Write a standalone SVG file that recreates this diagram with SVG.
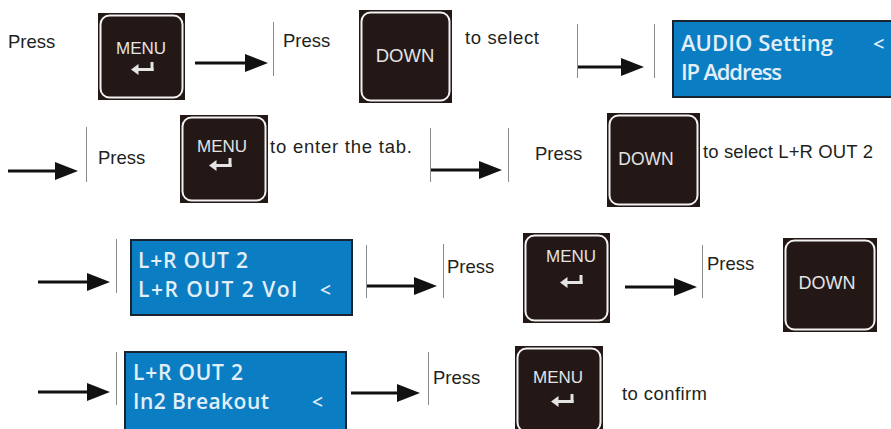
<svg xmlns="http://www.w3.org/2000/svg" xmlns:xlink="http://www.w3.org/1999/xlink" width="891" height="429" viewBox="0 0 891 429">
<style>
.t{font-family:"Liberation Sans",Arial,sans-serif;font-size:18.5px;fill:#231f20}
.key{fill:#231816}
.rim{fill:none;stroke:#f2f2f2;stroke-width:2}
.kt{font-family:"Liberation Sans",Arial,sans-serif;fill:#e4e4e4;text-anchor:middle}
.lcd{fill:#0b7dc3;stroke:#1a2430;stroke-width:2}
.lt{font-family:"Open Sans","DejaVu Sans",sans-serif;font-weight:600;fill:#e2eff9}
.sep{stroke:#8a8a8a;stroke-width:1}
.arr{stroke:#111;stroke-width:3;fill:none;marker-end:url(#ah)}
</style>
<defs>
<marker id="ah" markerUnits="userSpaceOnUse" viewBox="0 0 23 18" markerWidth="23" markerHeight="18" refX="1" refY="9" orient="auto">
<path d="M0,0 L23,9 L0,18 Z" fill="#111"/>
</marker>
<g id="enter" fill="#e4e4e4">
<path d="M-10,0.5 L-2.5,-5 L-2.5,6 Z"/>
<rect x="-3" y="-1" width="15.5" height="3"/>
<rect x="9.5" y="-7" width="3" height="9"/>
</g>
</defs>

<g id="connectors">
<line class="arr" x1="195" y1="63" x2="246" y2="63"/>
<line class="sep" x1="273.5" y1="22" x2="273.5" y2="76"/>
<line class="sep" x1="577.5" y1="24" x2="577.5" y2="78"/>
<line class="arr" x1="578" y1="67" x2="622" y2="67"/>
<line class="sep" x1="654.5" y1="24" x2="654.5" y2="78"/>

<line class="arr" x1="8" y1="171" x2="56" y2="171"/>
<line class="sep" x1="86.5" y1="127" x2="86.5" y2="182"/>
<line class="sep" x1="430.5" y1="128" x2="430.5" y2="182"/>
<line class="arr" x1="431" y1="170" x2="480" y2="170"/>
<line class="sep" x1="508.5" y1="128" x2="508.5" y2="182"/>

<line class="arr" x1="38" y1="282" x2="88" y2="282"/>
<line class="sep" x1="116.5" y1="239" x2="116.5" y2="293"/>
<line class="sep" x1="366.5" y1="245" x2="366.5" y2="298"/>
<line class="arr" x1="367" y1="286" x2="415" y2="286"/>
<line class="sep" x1="443.5" y1="244" x2="443.5" y2="298"/>
<line class="arr" x1="625" y1="287" x2="675" y2="287"/>
<line class="sep" x1="702.5" y1="245" x2="702.5" y2="298"/>

<line class="arr" x1="38" y1="392" x2="88" y2="392"/>
<line class="sep" x1="116.5" y1="352" x2="116.5" y2="405"/>
<line class="arr" x1="351" y1="393" x2="398" y2="393"/>
<line class="sep" x1="428.5" y1="352" x2="428.5" y2="405"/>
</g>

<g id="texts">
<text class="t" x="8" y="48">Press</text>
<text class="t" x="283" y="47">Press</text>
<text class="t" x="465" y="44" textLength="74">to select</text>
<text class="t" x="98" y="164">Press</text>
<text class="t" x="270" y="153" textLength="142">to enter the tab.</text>
<text class="t" x="535" y="160">Press</text>
<text class="t" x="703" y="158" textLength="170">to select L+R OUT 2</text>
<text class="t" x="447" y="273">Press</text>
<text class="t" x="707" y="270">Press</text>
<text class="t" x="433" y="384">Press</text>
<text class="t" x="622" y="400" textLength="85">to confirm</text>
</g>

<g id="menu1">
<rect class="key" x="98" y="13" width="87" height="87"/>
<rect class="rim" x="100.5" y="15.5" width="82" height="82" rx="9"/>
<text class="kt" x="141" y="54" font-size="17">MENU</text>
<use xlink:href="#enter" x="141" y="69"/>
</g>
<g id="down1">
<rect class="key" x="359" y="10" width="93" height="93"/>
<rect class="rim" x="361.5" y="12.5" width="88" height="88" rx="9"/>
<text class="kt" x="405" y="62" font-size="18.5">DOWN</text>
</g>
<g id="lcd1">
<rect class="lcd" x="673" y="21" width="222" height="76"/>
<text class="lt" x="681" y="51" font-size="22" textLength="152">AUDIO Setting</text>
<text class="lt" x="873" y="51" font-size="20">&lt;</text>
<text class="lt" x="681" y="80" font-size="22" textLength="101">IP Address</text>
</g>

<g id="menu2">
<rect class="key" x="180" y="115" width="88" height="88"/>
<rect class="rim" x="182.5" y="117.5" width="83" height="83" rx="9"/>
<text class="kt" x="222" y="152" font-size="17">MENU</text>
<use xlink:href="#enter" x="219" y="165"/>
</g>
<g id="down2">
<rect class="key" x="607" y="113" width="93" height="94"/>
<rect class="rim" x="609.5" y="115.5" width="88" height="89" rx="9"/>
<text class="kt" x="646" y="165" font-size="17.5">DOWN</text>
</g>

<g id="lcd2">
<rect class="lcd" x="131" y="240" width="221" height="75"/>
<text class="lt" x="138" y="268" font-size="21" textLength="110">L+R OUT 2</text>
<text class="lt" x="138" y="297" font-size="21" textLength="159">L+R OUT 2 Vol</text>
<text class="lt" x="320" y="297" font-size="19">&lt;</text>
</g>
<g id="menu3">
<rect class="key" x="523" y="233" width="87" height="90"/>
<rect class="rim" x="525.5" y="235.5" width="82" height="85" rx="9"/>
<text class="kt" x="571" y="262" font-size="17">MENU</text>
<use xlink:href="#enter" x="570" y="282"/>
</g>
<g id="down3">
<rect class="key" x="783" y="238" width="94" height="94"/>
<rect class="rim" x="785.5" y="240.5" width="89" height="89" rx="9"/>
<text class="kt" x="827" y="289" font-size="18">DOWN</text>
</g>

<g id="lcd3">
<rect class="lcd" x="125" y="352" width="221" height="80"/>
<text class="lt" x="133" y="380" font-size="21" textLength="110">L+R OUT 2</text>
<text class="lt" x="133" y="409" font-size="21" textLength="136">In2 Breakout</text>
<text class="lt" x="312" y="409" font-size="19">&lt;</text>
</g>
<g id="menu4">
<rect class="key" x="515" y="346" width="88" height="88"/>
<rect class="rim" x="517.5" y="348.5" width="83" height="83" rx="9"/>
<text class="kt" x="558" y="383" font-size="17">MENU</text>
<use xlink:href="#enter" x="561" y="401"/>
</g>
</svg>
